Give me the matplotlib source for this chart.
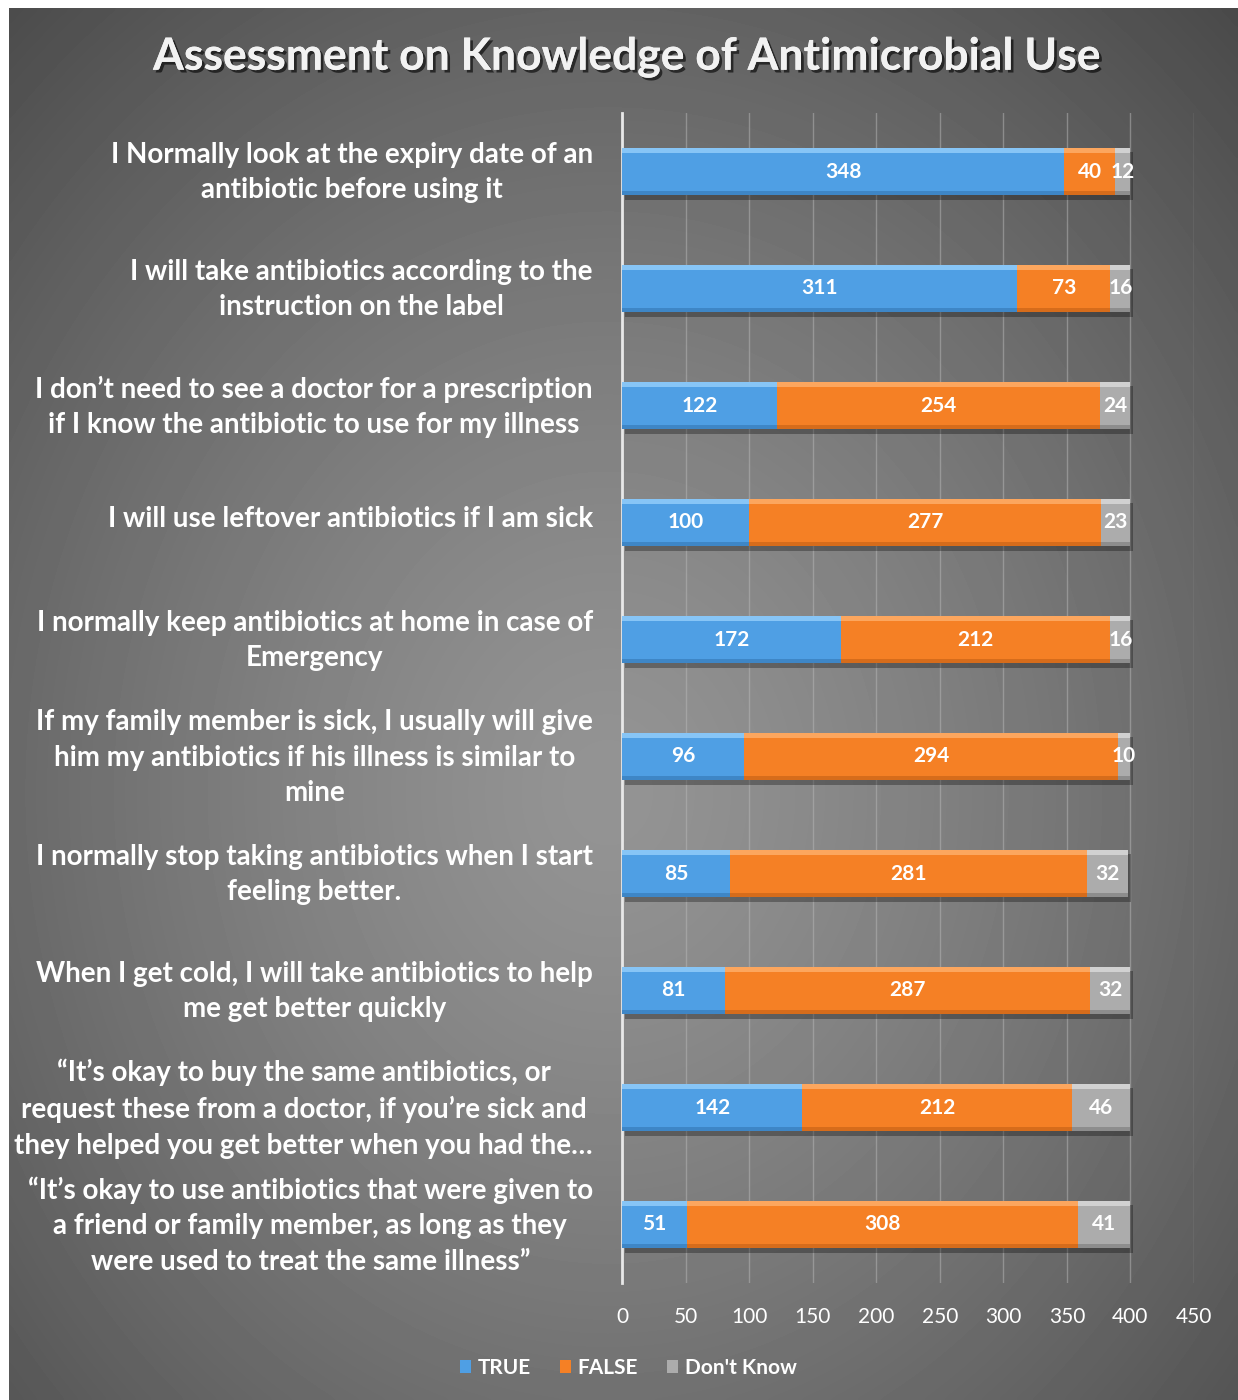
import numpy as np
import matplotlib
matplotlib.use("Agg")
import matplotlib.pyplot as plt
from matplotlib import patheffects as pe
from matplotlib.patches import Patch
from matplotlib.transforms import ScaledTranslation

statements = [
    "I Normally look at the expiry date of an\nantibiotic before using it",
    "I will take antibiotics according to the\ninstruction on the label",
    "I don\u2019t need to see a doctor for a prescription\nif I know the antibiotic to use for my illness",
    "I will use leftover antibiotics if I am sick",
    "I normally keep antibiotics at home in case of\nEmergency",
    "If my family member is sick, I usually will give\nhim my antibiotics if his illness is similar to\nmine",
    "I normally stop taking antibiotics when I start\nfeeling better.",
    "When I get cold, I will take antibiotics to help\nme get better quickly",
    "\u201cIt\u2019s okay to buy the same antibiotics, or\nrequest these from a doctor, if you\u2019re sick and\nthey helped you get better when you had the\u2026",
    "\u201cIt\u2019s okay to use antibiotics that were given to\na friend or family member, as long as they\nwere used to treat the same illness\u201d",
]
true_counts = [348, 311, 122, 100, 172, 96, 85, 81, 142, 51]
false_counts = [40, 73, 254, 277, 212, 294, 281, 287, 212, 308]
dont_know_counts = [12, 16, 24, 23, 16, 10, 32, 32, 46, 41]
series_names = ["TRUE", "FALSE", "Don't Know"]
x_ticks = [0, 50, 100, 150, 200, 250, 300, 350, 400, 450]

colors = ["#4f9fe4", "#f58025", "#acacac"]
light = ["#9fd6ff", "#ffb777", "#e2e2e2"]
dark = ["#2f6faa", "#b85a12", "#6f6f6f"]

FONT = "Lato"
W, H = 1238, 1400
fig = plt.figure(figsize=(W / 100, H / 100), dpi=100)
fig.patch.set_facecolor("white")

# gradient backdrop panel
bg = fig.add_axes([9 / W, 0, 1 - 9 / W, 1 - 8 / H])
bg.set_axis_off()
yy, xx = np.mgrid[0:400, 0:360]
cx, cy = 175, 225
r = np.sqrt(((xx - cx) / 260.0) ** 2 + ((yy - cy) / 300.0) ** 2)
shade = np.clip(0.58 - 0.28 * r ** 1.3, 0.28, 0.6)
bg.imshow(shade, cmap="gray", vmin=0, vmax=1, aspect="auto",
          extent=[0, 1, 0, 1], origin="upper", interpolation="bicubic")
bg.set_xlim(0, 1)
bg.set_ylim(0, 1)

ax = fig.add_axes([622 / W, 1 - 1283 / H, (1194 - 622) / W, (1283 - 113) / H])
ax.set_facecolor("none")
ypos = np.arange(len(statements))
bh = 0.41

series = [np.array(true_counts), np.array(false_counts), np.array(dont_know_counts)]
left = np.zeros(len(statements))
shadow = [pe.SimplePatchShadow(offset=(2, -3), shadow_rgbFace="black", alpha=0.3),
          pe.Normal()]
for k, vals in enumerate(series):
    ax.barh(ypos, vals, left=left, height=bh, color=colors[k],
            edgecolor="none", zorder=3, path_effects=shadow)
    # bevel: soft highlight along the top edge, darker lip at the bottom
    ax.barh(ypos - bh / 2 + 0.025, vals, left=left, height=0.05,
            color=light[k], edgecolor="none", alpha=0.7, zorder=4)
    ax.barh(ypos + bh / 2 - 0.02, vals, left=left, height=0.04,
            color=dark[k], edgecolor="none", alpha=0.5, zorder=4)
    for i, v in enumerate(vals):
        ax.text(left[i] + v / 2, ypos[i], str(v), ha="center", va="center",
                color="white", fontsize=15, fontweight="bold", family=FONT,
                zorder=6)
    left = left + vals

ax.set_xlim(0, 450)
ax.set_ylim(len(statements) - 0.5, -0.5)
ax.set_xticks(x_ticks)
ax.set_xticklabels([str(t) for t in x_ticks], color="white", fontsize=15,
                   family=FONT)
ax.set_yticks(ypos)
ax.set_yticklabels(statements, color="white", fontsize=20,
                   fontweight="bold", family=FONT, multialignment="center",
                   linespacing=1.45)
ax.tick_params(axis="both", length=0)
ax.tick_params(axis="y", pad=21)
ax.tick_params(axis="x", pad=17)
ax.xaxis.grid(True, color="#b8b8b8", linewidth=1.0, alpha=0.5, zorder=0)
ax.set_axisbelow(True)
for s in ["top", "right", "bottom"]:
    ax.spines[s].set_visible(False)
ax.spines["left"].set_color("#e8e8e8")
ax.spines["left"].set_linewidth(2)

# lift the statement labels slightly so they sit level with the bars
lift = ScaledTranslation(0, 6 / 100, fig.dpi_scale_trans)
for lbl in ax.get_yticklabels():
    lbl.set_transform(lbl.get_transform() + lift)

fig.text(627 / W, 1 - 57 / H, "Assessment on Knowledge of Antimicrobial Use",
         ha="center", va="center", color="#f2f2f2", fontsize=32,
         fontweight="bold", family=FONT,
         path_effects=[pe.withSimplePatchShadow(offset=(2, -2),
                                                shadow_rgbFace="black",
                                                alpha=0.6),
                       pe.Normal()])

handles = [Patch(facecolor=c, edgecolor="none") for c in colors]
leg = fig.legend(handles, series_names, loc="center",
                 bbox_to_anchor=(628 / W, 1 - 1368 / H), ncol=3,
                 frameon=False, handlelength=0.55, handleheight=0.55,
                 handletextpad=0.3, columnspacing=1.4,
                 prop={"family": FONT, "weight": "bold", "size": 15})
for t in leg.get_texts():
    t.set_color("white")

fig.savefig("out.png", dpi=100, facecolor="white")
